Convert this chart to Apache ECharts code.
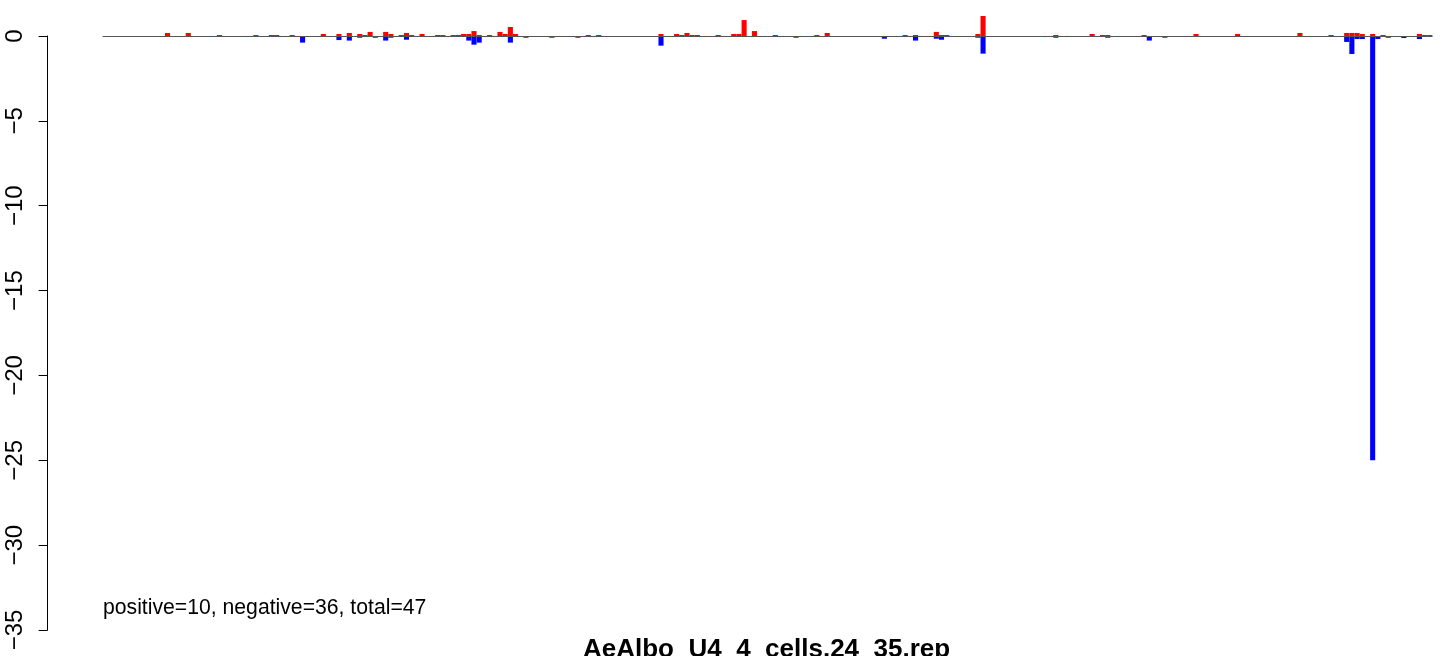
<!DOCTYPE html>
<html>
<head>
<meta charset="utf-8">
<script src="https://cdn.jsdelivr.net/npm/echarts@6/dist/echarts.min.js"></script>
<style>
html,body{margin:0;padding:0;background:#fff;}
#chart{width:1444px;height:656px;}
</style>
</head>
<body>
<div id="chart"></div>
<script>
// Values (256 bars, red = positive, blue = negative)
const positive = [
  0,0,0,0,0,0,0,0,0,0,0,0,0.18,0,0,0,
  0.18,0,0,0,0,0,0.06,0,0,0,0,0,0,0.06,0,0,
  0.06,0.06,0,0,0.06,0,0,0,0,0,0.12,0,0,0.12,0,0.18,
  0,0.12,0.06,0.24,0,0,0.24,0.12,0,0.06,0.18,0.06,0,0.12,0,0,
  0.06,0.06,0,0.06,0.06,0.12,0.12,0.29,0.06,0,0.06,0,0.24,0.12,0.53,0.12,
  0,0,0,0,0,0,0,0,0,0,0,0,0,0.06,0,0.06,
  0,0,0,0,0,0,0,0,0,0,0,0.12,0,0,0.12,0.06,
  0.18,0.06,0.06,0,0,0,0.06,0,0,0.12,0.12,0.94,0,0.29,0,0,
  0,0.06,0,0,0,0,0,0,0,0.06,0,0.18,0,0,0,0,
  0,0,0,0,0,0,0,0,0,0,0.06,0,0.06,0,0,0,
  0.24,0.06,0.06,0,0,0,0,0,0.12,1.18,0,0,0,0,0,0,
  0,0,0,0,0,0,0,0.06,0,0,0,0,0,0,0.12,0,
  0.06,0.06,0,0,0,0,0,0,0.06,0,0,0,0,0,0,0,
  0,0,0.12,0,0,0,0,0,0,0,0.12,0,0,0,0,0,
  0,0,0,0,0,0,0.18,0,0,0,0,0,0.06,0,0,0.18,
  0.18,0.18,0.12,0,0.12,0,0.06,0,0,0,0,0,0,0.12,0.06,0.06
];
const negative = [
  0,0,0,0,0,0,0,0,0,0,0,0,0,0,0,0,
  0,0,-0.05,0,-0.05,0,0,0,0,0,0,0,0,0,0,0,
  0,0,0,0,0,0,-0.39,0,0,0,-0.04,0,0,-0.24,0,-0.27,
  0,-0.1,0,0,-0.1,0,-0.27,-0.1,0,0,-0.22,0,-0.04,-0.04,0,0,
  0,0,-0.04,0,0,-0.04,-0.27,-0.51,-0.39,0,0,-0.04,0,0,-0.39,0,
  0,-0.1,0,0,0,0,-0.1,0,0,-0.04,0,-0.1,0,0,0,0,
  0,0,0,0,0,0,0,-0.04,0,0,0,-0.57,0,0,0,0,
  -0.04,0,0,0,0,0,0,0,0,0,0,-0.04,-0.04,0,-0.04,0,
  -0.04,0,0,0,0,-0.1,0,0,-0.04,0,0,-0.04,0,0,0,0,
  0,0,0,0,0,0,-0.16,-0.04,0,-0.04,0,0,-0.27,0,-0.04,0,
  -0.16,-0.22,0,0,0,0,0,0,-0.1,-1.04,0,0,0,0,0,0,
  0,-0.04,0,-0.04,-0.04,0,0,-0.1,0,0,0,0,0,0,-0.04,0,
  0,-0.1,-0.04,0,0,0,-0.04,0,0,-0.27,0,-0.04,-0.1,0,0,0,
  0,0,0,0,0,0,0,0,0,0,0,0,0,0,0,0,
  -0.04,0,0,0,0,0,-0.04,-0.04,-0.04,0,0,0,0,0,0,-0.35,
  -1.06,-0.18,-0.18,0,-25,-0.18,0,-0.1,0,0,-0.12,0,0,-0.18,-0.04,-0.04
];
const categories = positive.map((_, i) => String(i + 1));
const yMin = -35, yMax = 0, yStep = 5;
const titleText = 'AeAlbo_U4_4_cells.24_35.rep';
const noteText = 'positive=10, negative=36, total=47';

const chart = echarts.init(document.getElementById('chart'), null, {renderer: 'canvas'});
const FONT = '"Liberation Sans", Arial, Helvetica, sans-serif';
chart.setOption({
  animation: false,
  backgroundColor: '#ffffff',
  title: {
    text: titleText,
    left: 583, top: 637,
    textStyle: {fontFamily: FONT, fontWeight: 'bold', fontSize: 26, color: '#000', lineHeight: 26},
    padding: 0
  },
  grid: {left: 102.6, right: 11.6, top: 36, bottom: 26, containLabel: false},
  xAxis: {
    type: 'category', data: categories,
    axisLine: {show: false}, axisTick: {show: false}, axisLabel: {show: false}, splitLine: {show: false}
  },
  yAxis: {
    type: 'value', min: yMin, max: yMax, interval: yStep,
    offset: 55,
    axisLine: {show: true, lineStyle: {color: '#000', width: 1}},
    axisTick: {show: true, length: 9, lineStyle: {color: '#000', width: 1}},
    splitLine: {show: false},
    axisLabel: {
      rotate: 90, margin: 20, fontSize: 24, fontFamily: FONT, color: '#000',
      formatter: v => v < 0 ? '\u2212' + (-v) : String(v)
    }
  },
  series: [
    {
      type: 'bar', data: positive, clip: false,
      barGap: '-100%', barCategoryGap: '2%',
      itemStyle: {color: '#ff0000'},
      markLine: {
        silent: true, symbol: ['none', 'none'], label: {show: false},
        lineStyle: {color: '#555', width: 1, type: 'solid'},
        data: [{yAxis: 0}]
      }
    },
    {
      type: 'bar', data: negative, clip: false,
      barGap: '-100%', barCategoryGap: '2%',
      itemStyle: {color: '#0000ff'}
    }
  ],
  graphic: [{
    type: 'text', left: 103, top: 598,
    style: {text: noteText, font: '21.2px ' + FONT, fill: '#000'}
  }]
});
</script>
</body>
</html>
